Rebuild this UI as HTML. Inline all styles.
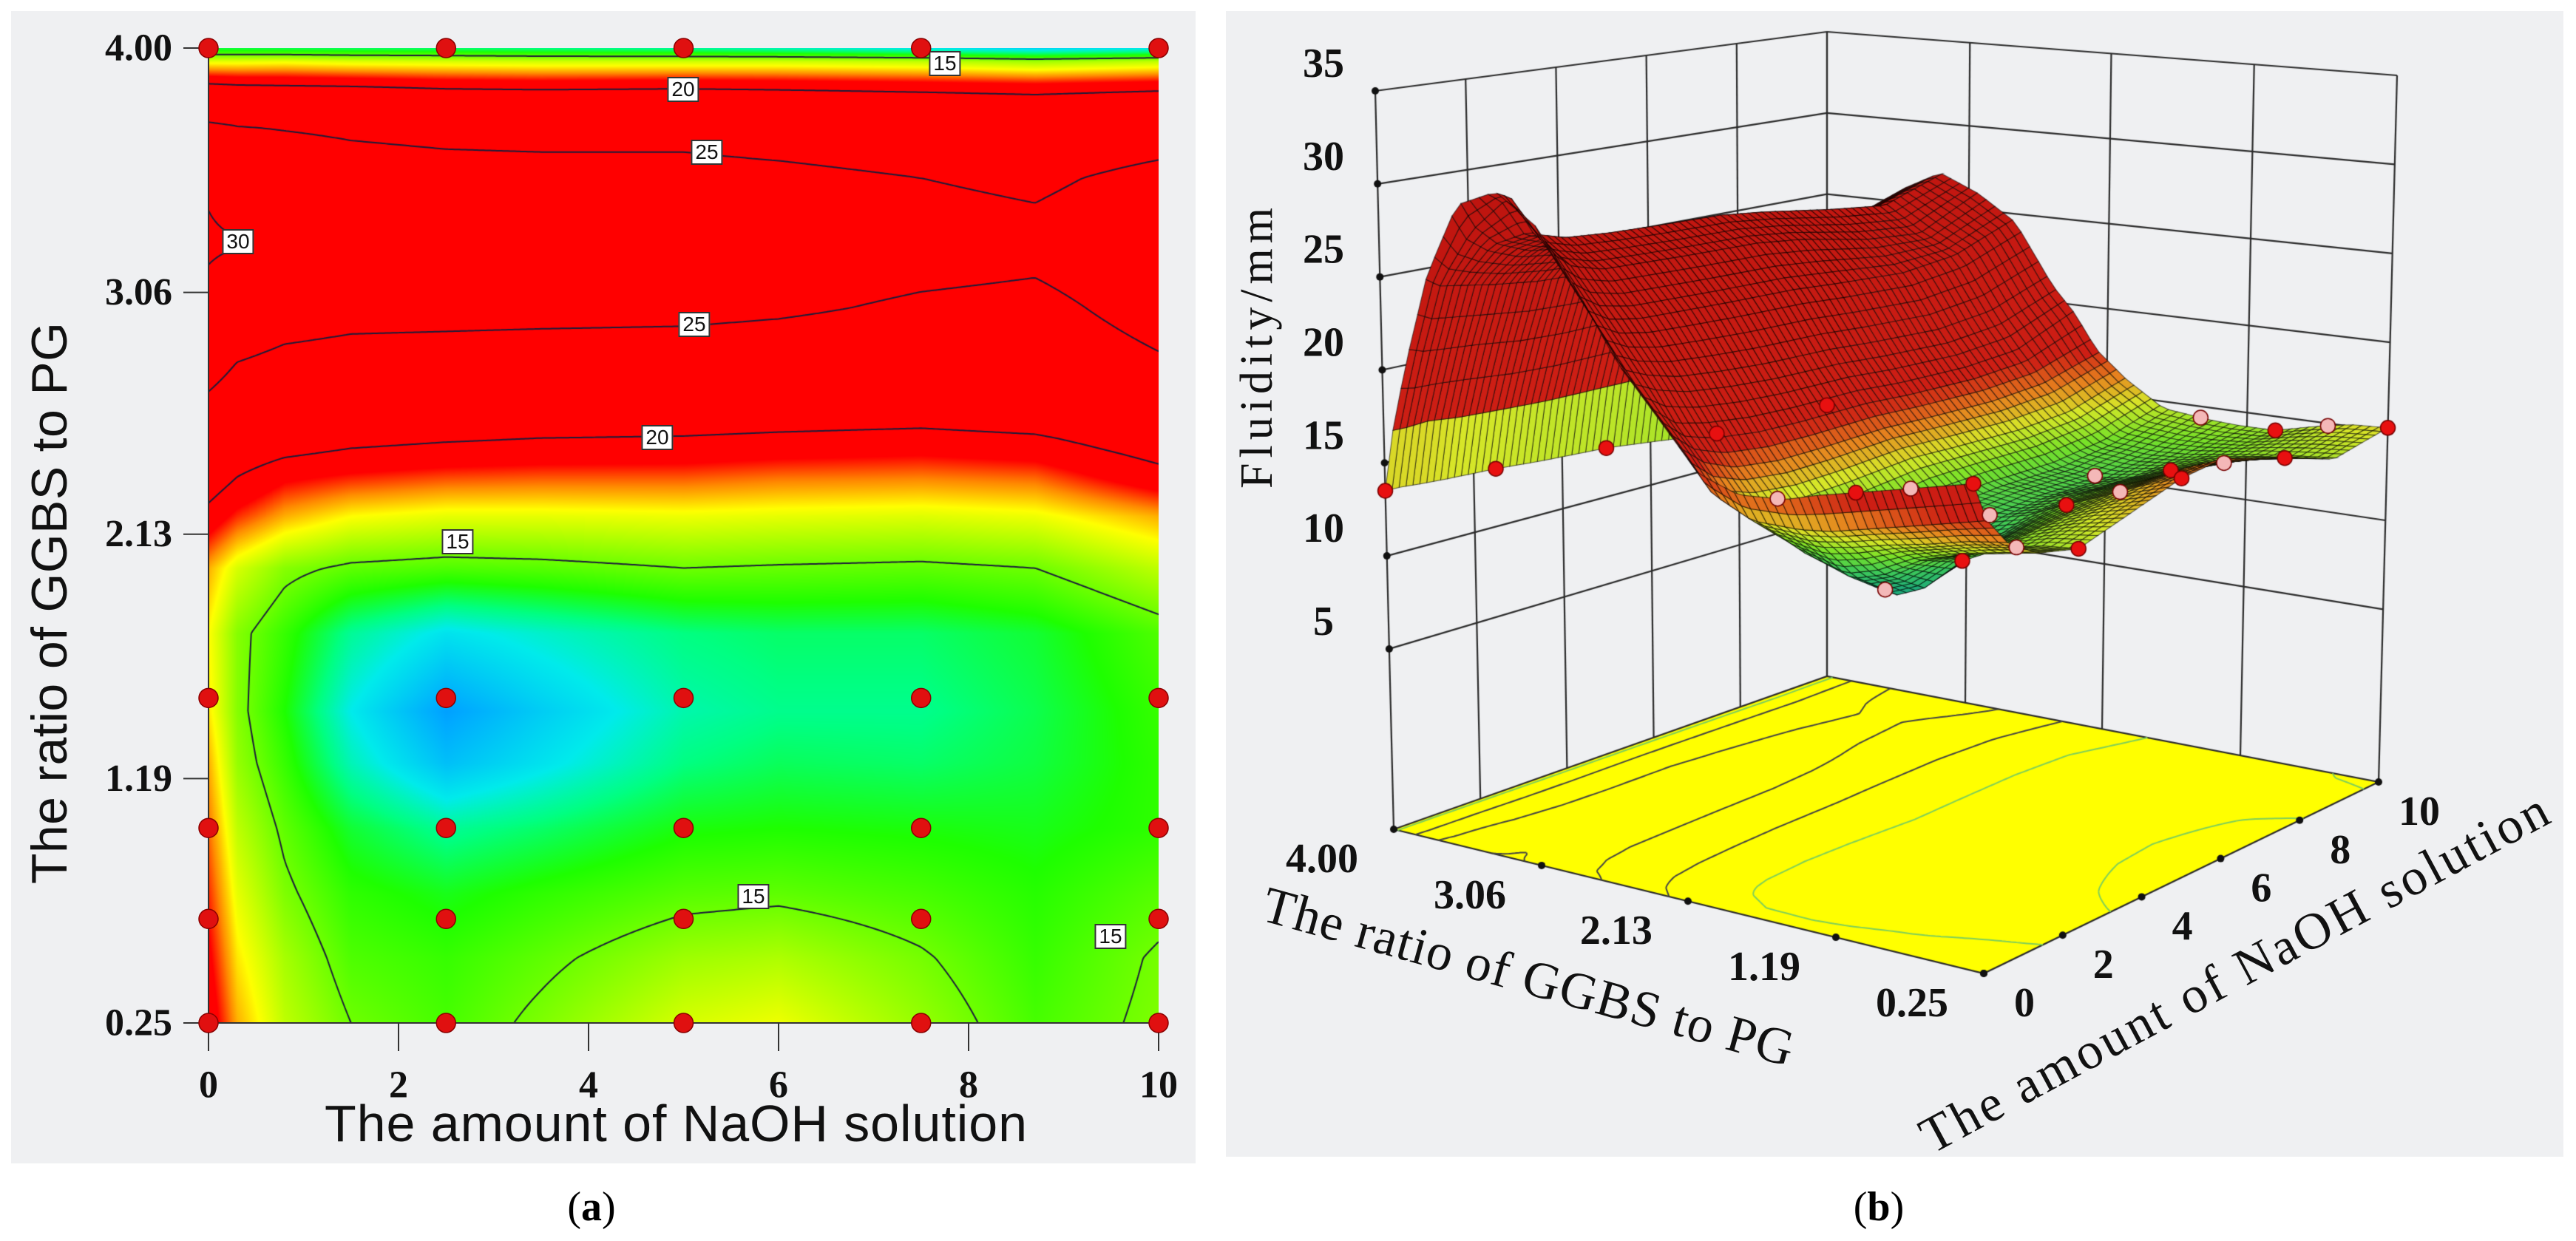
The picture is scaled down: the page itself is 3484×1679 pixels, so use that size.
<!DOCTYPE html>
<html><head><meta charset="utf-8"><style>
html,body{margin:0;padding:0;background:#fff}
body{width:3484px;height:1679px;position:relative;overflow:hidden}
.panel{position:absolute;background:#eff0f2}
canvas{position:absolute}
.lbl{position:absolute;background:#fff;border:2px solid #333;font:28px "Liberation Sans",sans-serif;line-height:30px;padding:0 4px;transform:translate(-50%,-50%);color:#111}
svg{position:absolute;left:0;top:0}
</style></head><body>
<div class="panel" style="left:15px;top:15px;width:1602px;height:1559px"></div>
<div class="panel" style="left:1658px;top:15px;width:1809px;height:1550px"></div>
<canvas id="heat" width="1285" height="1319" style="left:282px;top:65px"></canvas>
<canvas id="surf" width="3484" height="1679" style="left:0;top:0"></canvas>
<div class="lbl" style="left:1278px;top:86px">15</div>
<div class="lbl" style="left:924px;top:121px">20</div>
<div class="lbl" style="left:956px;top:206px">25</div>
<div class="lbl" style="left:322px;top:327px">30</div>
<div class="lbl" style="left:939px;top:439px">25</div>
<div class="lbl" style="left:889px;top:592px">20</div>
<div class="lbl" style="left:619px;top:733px">15</div>
<div class="lbl" style="left:1019px;top:1213px">15</div>
<div class="lbl" style="left:1502px;top:1267px">15</div>
<svg id="ov" width="3484" height="1679">
<text x="914" y="1520" text-anchor="middle" dominant-baseline="central" font-family="Liberation Sans, sans-serif" font-size="70" textLength="950" fill="#111">The amount of NaOH solution</text>
<text transform="translate(67,816) rotate(-90)" text-anchor="middle" dominant-baseline="central" font-family="Liberation Sans, sans-serif" font-size="68" textLength="760" fill="#111">The ratio of GGBS to PG</text>
<text x="800" y="1633" text-anchor="middle" dominant-baseline="central" font-family="Liberation Serif, serif" font-size="56" fill="#000">(<tspan font-weight="bold">a</tspan>)</text>
<text x="2541" y="1633" text-anchor="middle" dominant-baseline="central" font-family="Liberation Serif, serif" font-size="56" fill="#000">(<tspan font-weight="bold">b</tspan>)</text>
<text transform="translate(1700,471) rotate(-90)" text-anchor="middle" dominant-baseline="central" font-family="Liberation Serif, serif" font-size="62" textLength="380" fill="#111">Fluidity/mm</text>
<text transform="translate(2067,1322) rotate(15.5)" text-anchor="middle" dominant-baseline="central" font-family="Liberation Serif, serif" font-size="70" textLength="742" fill="#111">The ratio of GGBS to PG</text>
<text transform="translate(3022,1317) rotate(-28.2)" text-anchor="middle" dominant-baseline="central" font-family="Liberation Serif, serif" font-size="70" textLength="953" fill="#111">The amount of NaOH solution</text>
</svg>
<script>
// ---- data ----
const naohCols=[0,0.3,0.8,1.5,2.5,3.5,5,6,7.5,8.7,10];
const ratioRows=[0.25,0.5,0.75,1.0,1.25,1.45,1.75,2.0,2.2,2.35,2.5,2.75,3.0,3.25,3.5,3.7,3.85,3.95,4.0];
const fluidity=[
[19.5,17.5,16.0,15,14.5,15.2,16.3,16.6,15.5,14.5,15.2],
[19,17,15.7,14.6,14.3,14.8,15.6,15.8,15.1,14.3,15.1],
[18.5,16.5,15.2,14.2,13.8,14.2,14.7,14.8,14.5,14.1,14.7],
[18,16,14.8,13.6,12.8,13.2,13.9,14.0,13.9,13.8,14.2],
[17.5,15.5,14.3,12.5,11.0,11.8,13.0,13.3,13.2,13.5,14.2],
[17,15.3,14.0,12.0,10.3,11.3,12.6,12.9,12.9,13.4,14.3],
[16.8,15.3,14.3,12.8,11.8,12.3,13.0,13.2,13.2,13.6,14.6],
[17.5,16.3,15.3,14.8,14.6,14.7,15.0,14.9,14.8,15.0,16.0],
[19.5,18.5,17.5,16.8,16.5,16.5,16.6,16.5,16.4,16.6,17.5],
[21,20,19,18.6,18.3,18.2,18.2,18.0,17.9,18.1,19.5],
[22.5,21.5,21,20.5,20.2,20,19.9,19.7,19.5,19.8,21],
[26,24.5,23.8,23.5,23.4,23.3,23.2,23.0,22.8,23.2,24.5],
[29,27.5,26.5,26,25.9,25.8,25.7,25.4,24.6,24.3,26],
[30.5,30.2,28,27.5,27.3,27.2,27.1,26.8,26.2,25.8,27],
[29.5,28,27,26.3,26.0,25.9,25.8,25.6,25.0,24.5,25.8],
[25.5,25,24.8,24.5,24.2,24.1,24.2,23.8,23.3,22.9,23.5],
[20.5,20.3,20.2,20.1,19.8,19.7,19.8,19.7,19.5,19.3,19.6],
[16.5,16.5,16.6,16.4,16.3,16.2,16.2,16.2,16.0,15.6,16],
[13.5,13.5,13.4,13.3,13.2,13.0,12.8,12.5,12.0,11.5,12]];
const designRatio=[4.00,1.5,1.0,0.65,0.25];
const designNaoh=[0,2.5,5,7.5,10];
const ratioTicks=[4.00,3.06,2.13,1.19,0.25];
const ratioTickLabels=["4.00","3.06","2.13","1.19","0.25"];
const naohTicks=[0,2,4,6,8,10];
const zTicks=[5,10,15,20,25,30,35];
const contourLevels=[15,20,25,30];

function seg(arr,v){let i=0;while(i<arr.length-2&&v>arr[i+1])i++;return i;}
function cl(t){return t<0?0:t>1?1:t;}
function field(r,n){
  const i=seg(ratioRows,r),j=seg(naohCols,n);
  const ty=cl((r-ratioRows[i])/(ratioRows[i+1]-ratioRows[i])),tx=cl((n-naohCols[j])/(naohCols[j+1]-naohCols[j]));
  const a=fluidity[i][j],b=fluidity[i][j+1],c=fluidity[i+1][j],d=fluidity[i+1][j+1];
  return (a*(1-tx)+b*tx)*(1-ty)+(c*(1-tx)+d*tx)*ty;
}
function cmap(stops,v){
  if(v<=stops[0][0])return stops[0][1];
  for(let k=0;k<stops.length-1;k++){const s0=stops[k],s1=stops[k+1];
    if(v<=s1[0]){const t=(v-s0[0])/(s1[0]-s0[0]);return [0,1,2].map(c=>s0[1][c]+(s1[1][c]-s0[1][c])*t);}}
  return stops[stops.length-1][1];
}
function march(vals,nx,ny,level,out){
  for(let j=0;j<ny-1;j++)for(let i=0;i<nx-1;i++){
    const v0=vals[j*nx+i],v1=vals[j*nx+i+1],v2=vals[(j+1)*nx+i+1],v3=vals[(j+1)*nx+i];
    const p=[];
    if((v0<level)!=(v1<level))p.push([i+(level-v0)/(v1-v0),j]);
    if((v1<level)!=(v2<level))p.push([i+1,j+(level-v1)/(v2-v1)]);
    if((v3<level)!=(v2<level))p.push([i+(level-v3)/(v2-v3),j+1]);
    if((v0<level)!=(v3<level))p.push([i,j+(level-v0)/(v3-v0)]);
    if(p.length>=2)out(p[0],p[1]);
    if(p.length==4)out(p[2],p[3]);
  }
}
// ---- panel a: heatmap ----
const PX0=282,PY0=65,PW=1285,PH=1319;
function Xa(n){return PX0+n/10*PW;}
function Ya(r){return PY0+PH-(r-0.25)/3.75*PH;}
const heatStops=[[9,[0,100,255]],[10.5,[0,170,255]],[12,[0,235,235]],[13,[0,255,130]],[14,[30,255,0]],[15.5,[150,255,0]],[16.8,[255,255,0]],[17.8,[255,140,0]],[18.8,[255,0,0]]];
(function(){
  const cv=document.getElementById('heat'),ctx=cv.getContext('2d');
  const img=ctx.createImageData(PW,PH),d=img.data;
  for(let py=0;py<PH;py++){const r=0.25+(PH-py)/PH*3.75;
    for(let px=0;px<PW;px++){const n=px/PW*10;const c=cmap(heatStops,field(r,n));const o=(py*PW+px)*4;
      d[o]=c[0];d[o+1]=c[1];d[o+2]=c[2];d[o+3]=255;}}
  ctx.putImageData(img,0,0);
  const st=3,nx=Math.ceil(PW/st)+1,ny=Math.ceil(PH/st)+1,vals=new Float32Array(nx*ny);
  for(let j=0;j<ny;j++)for(let i=0;i<nx;i++){vals[j*nx+i]=field(0.25+(PH-j*st)/PH*3.75,Math.min(10,i*st/PW*10));}
  ctx.strokeStyle='#1c1c3a';ctx.lineWidth=2;ctx.beginPath();
  contourLevels.forEach(L=>march(vals,nx,ny,L,(a,b)=>{ctx.moveTo(a[0]*st,a[1]*st);ctx.lineTo(b[0]*st,b[1]*st);}));
  ctx.stroke();
})();
// ---- panel b: 3D ----
const FL={L:[1885,1122],F:[2683,1317],B:[2471,915],R:[3217,1058]};
const TP={L:[1860,123],F:[2660,230],B:[2471,43],R:[3242,102]};
const ZF=-4.7,ZT=35;
function bil(C,a,b,k){return C.L[k]*(1-a)*(1-b)+C.F[k]*a*(1-b)+C.B[k]*(1-a)*b+C.R[k]*a*b;}
function P(r,n,z){const a=(4-r)/3.75,b=n/10,s=(z-ZF)/(ZT-ZF);
  const fx=bil(FL,a,b,0),fy=bil(FL,a,b,1),tx=bil(TP,a,b,0),ty=bil(TP,a,b,1);return [fx+(tx-fx)*s,fy+(ty-fy)*s];}
const surfStops=[[11,[30,170,120]],[12.5,[60,200,90]],[13.8,[120,225,40]],[15,[215,230,40]],[16.2,[230,130,30]],[17.5,[205,30,20]],[30,[190,20,15]]];
(function(){
  const ctx=document.getElementById('surf').getContext('2d');
  function line(p,q){ctx.beginPath();ctx.moveTo(p[0],p[1]);ctx.lineTo(q[0],q[1]);ctx.stroke();}
  ctx.strokeStyle='#2a2a2a';ctx.lineWidth=2.2;
  naohTicks.forEach(n=>line(P(4,n,ZF),P(4,n,ZT)));
  ratioTicks.forEach(r=>line(P(r,10,ZF),P(r,10,ZT)));
  zTicks.forEach(z=>{line(P(4,0,z),P(4,10,z));line(P(4,10,z),P(0.25,10,z));});
  ctx.fillStyle='#ffff00';ctx.beginPath();
  [P(4,0,ZF),P(0.25,0,ZF),P(0.25,10,ZF),P(4,10,ZF)].forEach((p,i)=>i?ctx.lineTo(p[0],p[1]):ctx.moveTo(p[0],p[1]));
  ctx.closePath();ctx.fill();ctx.stroke();
  const G=140,fv=new Float32Array((G+1)*(G+1));
  for(let j=0;j<=G;j++)for(let i=0;i<=G;i++)fv[j*(G+1)+i]=field(4-i/G*3.75,j/G*10);
  contourLevels.forEach(L=>{ctx.strokeStyle=L==15?'#7fcf5a':'#444';ctx.lineWidth=2;ctx.beginPath();
    march(fv,G+1,G+1,L,(a,b)=>{const p=P(4-a[0]/G*3.75,a[1]/G*10,ZF),q=P(4-b[0]/G*3.75,b[1]/G*10,ZF);ctx.moveTo(p[0],p[1]);ctx.lineTo(q[0],q[1]);});ctx.stroke();});
  ctx.fillStyle='#111';
  function dot(p){ctx.beginPath();ctx.arc(p[0],p[1],5,0,7);ctx.fill();}
  ratioTicks.forEach(r=>dot(P(r,0,ZF)));naohTicks.forEach(n=>dot(P(0.25,n,ZF)));zTicks.forEach(z=>dot(P(4,0,z)));
  const N=64,quads=[];
  for(let i=0;i<N;i++)for(let j=0;j<N;j++)quads.push([i,j]);
  quads.sort((u,v)=>(u[0]-u[1])-(v[0]-v[1]));
  const rr=i=>4-i/N*3.75,nn=j=>j/N*10;
  ctx.lineWidth=1.1;ctx.strokeStyle='rgba(0,0,0,0.6)';
  quads.forEach(([i,j])=>{
    const c=[[i,j],[i+1,j],[i+1,j+1],[i,j+1]];
    const zs=c.map(([a,b])=>field(rr(a),nn(b)));
    const col=cmap(surfStops,(zs[0]+zs[1]+zs[2]+zs[3])/4);
    ctx.fillStyle='rgb('+col.map(Math.round).join(',')+')';
    ctx.beginPath();c.forEach(([a,b],k)=>{const p=P(rr(a),nn(b),zs[k]);k?ctx.lineTo(p[0],p[1]):ctx.moveTo(p[0],p[1]);});
    ctx.closePath();ctx.fill();ctx.stroke();
  });
  designRatio.forEach((r,ri)=>designNaoh.forEach(n=>{const p=P(r,n,field(r,n));
    ctx.fillStyle=ri%2?'#f4b8b8':'#e81010';ctx.strokeStyle='#700';ctx.lineWidth=1.5;ctx.beginPath();ctx.arc(p[0],p[1],10,0,7);ctx.fill();ctx.stroke();}));
})();
// ---- axes & labels (svg) ----
const NS='http://www.w3.org/2000/svg',ov=document.getElementById('ov');
function mk(tag,attrs,txt){const e=document.createElementNS(NS,tag);for(const k in attrs)e.setAttribute(k,attrs[k]);if(txt!==undefined)e.textContent=txt;ov.appendChild(e);return e;}
const tf={'font-family':'Liberation Serif, serif','font-weight':'bold','fill':'#111','dominant-baseline':'central'};
let e;
e=mk('line',{x1:PX0,y1:PY0,x2:PX0,y2:PY0+PH,stroke:'#333','stroke-width':2});


e=mk('line',{x1:PX0,y1:PY0+PH,x2:PX0+PW,y2:PY0+PH,stroke:'#333','stroke-width':2});


ratioTicks.forEach((r,k)=>{
  e=mk('line',{x1:248,y1:Ya(r),x2:PX0,y2:Ya(r),stroke:'#333','stroke-width':2});
  
  
  e=mk('text',Object.assign({x:233,y:Ya(r),'text-anchor':'end','font-size':52},tf),ratioTickLabels[k]);
  
  
  const p=P(r,0,ZF);
  e=mk('text',Object.assign({x:p[0]-97,y:p[1]+40,'text-anchor':'middle','font-size':56},tf),ratioTickLabels[k]);
  
  
});
naohTicks.forEach(n=>{
  e=mk('line',{x1:Xa(n),y1:PY0+PH,x2:Xa(n),y2:PY0+PH+38,stroke:'#333','stroke-width':2});
  
  
  e=mk('text',Object.assign({x:Xa(n),y:1468,'text-anchor':'middle','font-size':52},tf),String(n));
  
  
  const p=P(0.25,n,ZF);
  e=mk('text',Object.assign({x:p[0]+55,y:p[1]+40,'text-anchor':'middle','font-size':56},tf),String(n));
  
  
});
zTicks.forEach(z=>{const p=P(4,0,z);
  e=mk('text',Object.assign({x:1790,y:p[1]-37,'text-anchor':'middle','font-size':56},tf),String(z));
  
  
});
designRatio.forEach(r=>designNaoh.forEach(n=>{
  e=mk('circle',{cx:Xa(n),cy:Ya(r),r:13,fill:'#e01010',stroke:'#8a0000','stroke-width':1.5});
  
  
}));
</script>
</body></html>
